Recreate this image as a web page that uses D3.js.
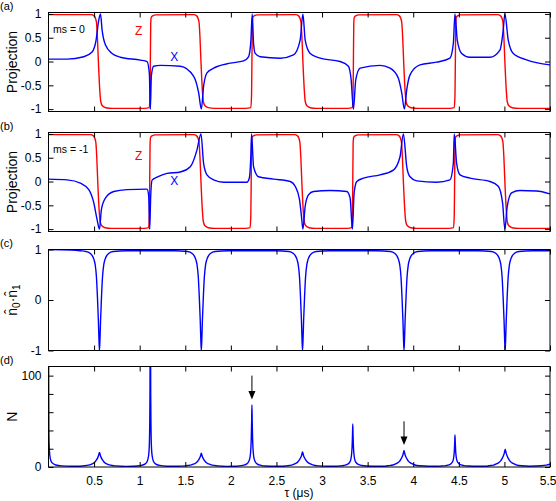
<!DOCTYPE html>
<html><head><meta charset="utf-8">
<script src="https://cdn.jsdelivr.net/npm/d3@7"></script>
<style>
body{margin:0;background:#fff}
svg{display:block}
text{font-family:"Liberation Sans",Arial,Helvetica,sans-serif;fill:#000}
</style>
</head><body>
<svg id="chart" width="556" height="501"></svg>
<script>
// ---------------- DATA ----------------
const xTicks = [0.5,1,1.5,2,2.5,3,3.5,4,4.5,5,5.5];
const xTickLabels = ["0.5","1","1.5","2","2.5","3","3.5","4","4.5","5","5.5"];
const projTicks = [-1,-0.5,0,0.5,1];
const projTickLabels = ["-1","-0.5","0","0.5","1"];
const dotTicks = [-1,0,1];
const dotTickLabels = ["-1","0","1"];
const nTicks = [0,20,40,60,80,100];
const nTickLabels = ["0","","","","","100"];
const panelLetters = ["(a)","(b)","(c)","(d)"];
const msLabels = ["ms = 0","ms = -1"];

// panel (a): ms = 0, Z projection (red)
const zA = [[0,0.985],[0.467,0.985],[0.50,0.96],[0.525,0.84],[0.536,0.52],[0.547,0],[0.562,-0.59],[0.573,-0.84],[0.591,-0.93],[0.627,-0.97],[0.70,-0.985],
[1.05,-0.985],[1.105,-0.97],[1.113,-0.7],[1.117,0],[1.121,0.8],[1.127,0.93],[1.142,0.96],[1.177,0.98],
[1.592,0.985],[1.625,0.96],[1.650,0.84],[1.661,0.52],[1.672,0],[1.687,-0.59],[1.698,-0.84],[1.716,-0.93],[1.752,-0.97],[1.82,-0.985],
[2.16,-0.985],[2.219,-0.97],[2.227,-0.7],[2.231,0],[2.235,0.8],[2.241,0.93],[2.256,0.96],[2.291,0.98],
[2.71,0.985],[2.743,0.96],[2.768,0.84],[2.779,0.52],[2.790,0],[2.805,-0.59],[2.816,-0.84],[2.834,-0.93],[2.87,-0.97],[2.94,-0.985],
[3.28,-0.985],[3.332,-0.97],[3.340,-0.7],[3.344,0],[3.348,0.8],[3.354,0.93],[3.369,0.96],[3.404,0.98],
[3.815,0.985],[3.848,0.96],[3.873,0.84],[3.884,0.52],[3.895,0],[3.910,-0.59],[3.921,-0.84],[3.939,-0.93],[3.975,-0.97],[4.05,-0.985],
[4.40,-0.985],[4.450,-0.97],[4.458,-0.7],[4.462,0],[4.466,0.8],[4.472,0.93],[4.487,0.96],[4.522,0.98],
[4.925,0.985],[4.958,0.96],[4.983,0.84],[4.994,0.52],[5.005,0],[5.020,-0.59],[5.031,-0.84],[5.049,-0.93],[5.085,-0.97],[5.16,-0.985],[5.5,-0.985]];

// panel (a): ms = 0, X projection (blue)
const xA = [[0,0.05],[0.204,0.05],[0.387,0.10],[0.478,0.2],[0.522,0.45],[0.551,0.87],[0.570,1.0],[0.588,0.66],[0.624,0.35],[0.697,0.17],[0.789,0.09],[1.008,0.03],[1.081,0.0],[1.106,-0.25],[1.117,-1],[1.128,-0.3],[1.153,-0.1],[1.227,-0.08],[1.446,-0.1],[1.592,-0.31],[1.647,-0.66],[1.676,-1],[1.701,-0.52],[1.738,-0.24],[1.811,-0.14],[1.993,-0.035],[2.139,0.014],[2.194,0.1],[2.220,0.45],[2.234,1.0],[2.249,0.38],[2.267,0.17],[2.322,0.1],[2.541,0.07],[2.687,0.14],[2.760,0.45],[2.790,1.0],[2.815,0.45],[2.870,0.17],[2.979,0.07],[3.198,0],[3.289,-0.1],[3.319,-0.38],[3.344,-1],[3.370,-0.38],[3.418,-0.14],[3.636,-0.08],[3.746,-0.14],[3.837,-0.35],[3.874,-0.66],[3.903,-1],[3.929,-0.59],[3.965,-0.28],[4.074,-0.07],[4.257,-0.014],[4.403,0.07],[4.440,0.38],[4.458,1.0],[4.483,0.45],[4.531,0.17],[4.622,0.09],[4.841,0.09],[4.951,0.24],[4.987,0.66],[5.005,1.0],[5.042,0.45],[5.097,0.17],[5.243,0.035],[5.5,-0.07]];

// panel (b): ms = -1, Z projection (red)
const zB = [[0,0.985],[0.46,0.985],[0.493,0.96],[0.518,0.84],[0.529,0.52],[0.540,0],[0.555,-0.59],[0.566,-0.84],[0.584,-0.93],[0.62,-0.97],[0.69,-0.985],
[1.05,-0.985],[1.098,-0.97],[1.106,-0.7],[1.110,0],[1.114,0.8],[1.120,0.93],[1.135,0.96],[1.17,0.98],
[1.592,0.985],[1.625,0.96],[1.650,0.84],[1.661,0.52],[1.672,0],[1.687,-0.59],[1.698,-0.84],[1.716,-0.93],[1.752,-0.97],[1.822,-0.985],
[2.163,-0.985],[2.211,-0.97],[2.219,-0.7],[2.223,0],[2.227,0.8],[2.233,0.93],[2.248,0.96],[2.283,0.98],
[2.698,0.985],[2.731,0.96],[2.756,0.84],[2.767,0.52],[2.778,0],[2.793,-0.59],[2.804,-0.84],[2.822,-0.93],[2.858,-0.97],[2.928,-0.985],
[3.277,-0.985],[3.325,-0.97],[3.333,-0.7],[3.337,0],[3.341,0.8],[3.347,0.93],[3.362,0.96],[3.397,0.98],
[3.812,0.985],[3.845,0.96],[3.870,0.84],[3.881,0.52],[3.892,0],[3.907,-0.59],[3.918,-0.84],[3.936,-0.93],[3.972,-0.97],[4.042,-0.985],
[4.394,-0.985],[4.442,-0.97],[4.450,-0.7],[4.454,0],[4.458,0.8],[4.464,0.93],[4.479,0.96],[4.514,0.98],
[4.925,0.985],[4.958,0.96],[4.983,0.84],[4.994,0.52],[5.005,0],[5.020,-0.59],[5.031,-0.84],[5.049,-0.93],[5.085,-0.97],[5.155,-0.985],[5.5,-0.985]];

// panel (b): ms = -1, X projection (blue)
const xB = [[0,0.05],[0.204,0.035],[0.350,-0.035],[0.442,-0.17],[0.497,-0.45],[0.533,-0.8],[0.559,-1],[0.580,-0.59],[0.624,-0.35],[0.716,-0.21],[0.862,-0.17],[1.081,-0.16],[1.099,-0.3],[1.110,-1],[1.121,-0.3],[1.136,0.03],[1.190,0.09],[1.300,0.17],[1.446,0.2],[1.555,0.31],[1.628,0.66],[1.672,1.0],[1.701,0.38],[1.738,0.14],[1.811,0.035],[1.920,-0.014],[2.176,-0.014],[2.202,0.07],[2.220,0.59],[2.227,1.0],[2.249,0.31],[2.303,0.1],[2.468,0.05],[2.651,0],[2.705,-0.1],[2.753,-0.38],[2.778,-0.8],[2.790,-1],[2.815,-0.52],[2.851,-0.28],[2.906,-0.21],[3.089,-0.19],[3.272,-0.21],[3.308,-0.35],[3.333,-1],[3.352,-0.24],[3.381,0],[3.454,0.07],[3.636,0.14],[3.782,0.24],[3.855,0.52],[3.892,1.0],[3.929,0.31],[3.965,0.1],[4.038,0.014],[4.257,-0.014],[4.403,0.035],[4.440,0.38],[4.450,1.0],[4.476,0.38],[4.513,0.14],[4.622,0.07],[4.841,0],[4.932,-0.1],[4.980,-0.45],[5.005,-1],[5.031,-0.52],[5.079,-0.24],[5.170,-0.19],[5.353,-0.2],[5.5,-0.26]];

// panel (c): n0 . n1
const dotC = [[0,1.0],[0.25,0.99],[0.35,0.975],[0.409,0.96],[0.459,0.92],[0.479,0.88],[0.497,0.81],[0.512,0.70],[0.526,0.45],[0.537,0.05],[0.547,-0.4],[0.553,-0.75],[0.559,-1],[0.565,-0.75],[0.571,-0.4],[0.581,0.05],[0.592,0.45],[0.606,0.70],[0.621,0.81],[0.639,0.88],[0.659,0.92],[0.709,0.96],[0.85,0.975],[1.38,0.975],
[1.526,0.96],[1.576,0.92],[1.596,0.88],[1.614,0.81],[1.629,0.70],[1.643,0.45],[1.654,0.05],[1.664,-0.4],[1.670,-0.75],[1.676,-1],[1.682,-0.75],[1.688,-0.4],[1.698,0.05],[1.709,0.45],[1.723,0.70],[1.738,0.81],[1.756,0.88],[1.776,0.92],[1.826,0.96],[1.97,0.975],[2.49,0.975],
[2.636,0.96],[2.686,0.92],[2.706,0.88],[2.724,0.81],[2.739,0.70],[2.753,0.45],[2.764,0.05],[2.774,-0.4],[2.780,-0.75],[2.786,-1],[2.792,-0.75],[2.798,-0.4],[2.808,0.05],[2.819,0.45],[2.833,0.70],[2.848,0.81],[2.866,0.88],[2.886,0.92],[2.936,0.96],[3.08,0.975],[3.60,0.975],
[3.749,0.96],[3.799,0.92],[3.819,0.88],[3.837,0.81],[3.852,0.70],[3.866,0.45],[3.877,0.05],[3.887,-0.4],[3.893,-0.75],[3.899,-1],[3.905,-0.75],[3.911,-0.4],[3.921,0.05],[3.932,0.45],[3.946,0.70],[3.961,0.81],[3.979,0.88],[3.999,0.92],[4.049,0.96],[4.19,0.975],[4.71,0.975],
[4.858,0.96],[4.908,0.92],[4.928,0.88],[4.946,0.81],[4.961,0.70],[4.975,0.45],[4.986,0.05],[4.996,-0.4],[5.002,-0.75],[5.008,-1],[5.014,-0.75],[5.020,-0.4],[5.030,0.05],[5.041,0.45],[5.055,0.70],[5.070,0.81],[5.088,0.88],[5.108,0.92],[5.158,0.96],[5.30,0.975],[5.5,0.975]];

// panel (d): N
const nD = [[0,150],[0.004,40],[0.01,18],[0.02,9],[0.04,4.5],[0.08,2.2],[0.15,1.2],[0.25,0.8],[0.33,0.8],
[0.379,1.2],[0.439,2],[0.479,3.5],[0.509,5.5],[0.524,7.5],[0.539,10],[0.549,12.5],[0.559,16],[0.569,12.5],[0.579,10],[0.594,7.5],[0.609,5.5],[0.639,3.5],[0.679,2],[0.739,1.2],
[0.85,0.7],[0.93,0.8],
[1.017,1.8],[1.057,3.2],[1.082,6],[1.097,12],[1.105,22],[1.110,45],[1.113,80],[1.115,150],[1.117,260],[1.119,150],[1.121,80],[1.124,45],[1.129,22],[1.137,12],[1.152,6],[1.177,3.2],[1.217,1.8],
[1.3,0.9],[1.42,0.8],
[1.496,1.2],[1.556,2],[1.596,3.3],[1.626,5.2],[1.641,7],[1.656,9.4],[1.666,11.7],[1.676,15],[1.686,11.7],[1.696,9.4],[1.711,7],[1.726,5.2],[1.756,3.3],[1.796,2],[1.856,1.2],
[1.95,0.7],[2.05,0.8],
[2.081,1.1],[2.131,1.8],[2.171,3.2],[2.196,6],[2.211,11],[2.219,20],[2.224,32],[2.228,50],[2.231,68],[2.234,50],[2.238,32],[2.243,20],[2.251,11],[2.266,6],[2.291,3.2],[2.331,1.8],[2.381,1.1],
[2.48,0.8],[2.56,0.8],
[2.606,1.2],[2.666,2],[2.706,3.6],[2.736,5.7],[2.751,7.7],[2.766,10.3],[2.776,12.9],[2.786,16.5],[2.796,12.9],[2.806,10.3],[2.821,7.7],[2.836,5.7],[2.866,3.6],[2.906,2],[2.966,1.2],
[3.06,0.8],[3.15,0.8],
[3.187,1.1],[3.237,1.6],[3.277,2.8],[3.302,5],[3.317,9],[3.325,15],[3.330,23],[3.334,35],[3.337,47],[3.340,35],[3.344,23],[3.349,15],[3.357,9],[3.372,5],[3.397,2.8],[3.437,1.6],[3.487,1.1],
[3.6,0.8],[3.68,0.8],
[3.719,1.3],[3.779,2.2],[3.819,3.9],[3.849,6.2],[3.864,8.4],[3.879,11.2],[3.889,14],[3.899,18],[3.909,14],[3.919,11.2],[3.934,8.4],[3.949,6.2],[3.979,3.9],[4.019,2.2],[4.079,1.3],
[4.17,0.8],[4.26,0.8],
[4.308,1.1],[4.358,1.5],[4.398,2.5],[4.423,4.5],[4.438,7.5],[4.446,12],[4.451,18],[4.455,27],[4.458,35],[4.461,27],[4.465,18],[4.470,12],[4.478,7.5],[4.493,4.5],[4.518,2.5],[4.558,1.5],[4.608,1.1],
[4.72,0.8],[4.8,0.8],
[4.829,1.3],[4.889,2.4],[4.929,4.2],[4.959,6.7],[4.974,9.1],[4.989,12.2],[4.999,15.2],[5.009,19.5],[5.019,15.2],[5.029,12.2],[5.044,9.1],[5.059,6.7],[5.089,4.2],[5.129,2.4],[5.189,1.3],
[5.28,0.9],[5.4,1.4],[5.46,2.1],[5.5,3]];

// arrows in panel (d): [tau, N at tail, N at tip]
const arrows = [[2.231,100,74],[3.899,50,24]];

// ---------------- DRAW ----------------
const svg = d3.select("#chart");
const X0 = 48.5, X1 = 550;
const x = d3.scaleLinear().domain([0,5.5]).range([X0,X1]);

const panels = [
  {top:12.5, bottom:111.5, domain:[-1.05,1.03], ticks:projTicks, labels:projTickLabels, series:[{d:zA,c:"#ff0000"},{d:xA,c:"#0000ff"}]},
  {top:132.5, bottom:231.5, domain:[-1.05,1.03], ticks:projTicks, labels:projTickLabels, series:[{d:zB,c:"#ff0000"},{d:xB,c:"#0000ff"}]},
  {top:249.5, bottom:350.5, domain:[-1,1], ticks:dotTicks, labels:dotTickLabels, series:[{d:dotC,c:"#0000ff"}]},
  {top:366.5, bottom:467, domain:[0,110], ticks:nTicks, labels:nTickLabels, series:[{d:nD,c:"#0000ff"}]}
];

const TS = 5;
panels.forEach((p,i) => {
  const y = d3.scaleLinear().domain(p.domain).range([p.bottom,p.top]);
  p.y = y;
  const g = svg.append("g");
  const cid = "clip"+i;
  svg.append("clipPath").attr("id",cid).append("rect")
    .attr("x",X0).attr("y",p.top).attr("width",X1-X0).attr("height",p.bottom-p.top);

  const line = d3.line().x(d=>x(d[0])).y(d=>y(d[1])).curve(d3.curveMonotoneX);
  const dg = g.append("g").attr("clip-path",`url(#${cid})`);
  p.series.forEach(s => {
    dg.append("path").attr("d",line(s.d)).attr("fill","none")
      .attr("stroke",s.c).attr("stroke-width",1.4).attr("stroke-linejoin","round");
  });

  // axes (inward ticks)
  const left = d3.axisLeft(y).tickValues(p.ticks).tickSize(-TS).tickSizeOuter(0).tickPadding(7)
    .tickFormat((d,k)=>p.labels[k]);
  const right = d3.axisRight(y).tickValues(p.ticks).tickSize(-TS).tickSizeOuter(0).tickFormat("");
  const topA = d3.axisTop(x).tickValues(xTicks).tickSize(-TS).tickSizeOuter(0).tickFormat("");
  const bot = d3.axisBottom(x).tickValues(xTicks).tickSize(-TS).tickSizeOuter(0).tickPadding(9)
    .tickFormat((d,k)=> i===3 ? xTickLabels[k] : "");
  const ax = [
    g.append("g").attr("transform",`translate(${X0},0)`).call(left),
    g.append("g").attr("transform",`translate(${X1},0)`).call(right),
    g.append("g").attr("transform",`translate(0,${p.top})`).call(topA),
    g.append("g").attr("transform",`translate(0,${p.bottom})`).call(bot)
  ];
  ax.forEach(a => {
    a.select(".domain").remove();
    a.selectAll(".tick line").attr("stroke","#000").attr("stroke-width",1);
    a.selectAll(".tick text").attr("font-size",12).attr("fill","#000")
      .attr("font-family",'"Liberation Sans",Arial,sans-serif');
  });
  if (i===3) {
    // keep the last label inside the window
    ax[3].selectAll(".tick text").filter((d,k)=>k===xTicks.length-1).attr("text-anchor","end").attr("dx",6);
  }

  // frame
  g.append("rect").attr("x",X0).attr("y",p.top).attr("width",X1-X0).attr("height",p.bottom-p.top)
    .attr("fill","none").attr("stroke","#000").attr("stroke-width",1);

  // panel letter
  svg.append("text").attr("x",0).attr("y",p.top-3).attr("font-size",11).text(panelLetters[i]);
});

// y labels
function ylab(cy, txt){
  return svg.append("text").attr("transform",`translate(17,${cy}) rotate(-90)`)
    .attr("text-anchor","middle").attr("font-size",14).text(txt);
}
ylab((panels[0].top+panels[0].bottom)/2,"Projection");
ylab((panels[1].top+panels[1].bottom)/2,"Projection");
const lc = svg.append("text").attr("transform",`translate(17,${(panels[2].top+panels[2].bottom)/2}) rotate(-90)`)
  .attr("text-anchor","middle").attr("font-size",14);
lc.append("tspan").text("n\u0302");
lc.append("tspan").attr("dy",3).attr("font-size",10).text("0");
lc.append("tspan").attr("dy",-3).text("\u00b7n\u0302");
lc.append("tspan").attr("dy",3).attr("font-size",10).text("1");
ylab((panels[3].top+panels[3].bottom)/2,"N");

// x label
svg.append("text").attr("x",299).attr("y",497).attr("text-anchor","middle").attr("font-size",12).text("τ (μs)");

// in-panel annotations
const pa = panels[0], pb = panels[1];
svg.append("text").attr("x",53).attr("y",pa.y(0.6)).attr("font-size",10.5).text(msLabels[0]);
svg.append("text").attr("x",53).attr("y",pb.y(0.6)).attr("font-size",10.5).text(msLabels[1]);
svg.append("text").attr("x",x(0.99)).attr("y",pa.y(0.55)).attr("text-anchor","middle").attr("font-size",12).style("fill","#ff0000").text("Z");
svg.append("text").attr("x",x(1.38)).attr("y",pa.y(0.02)).attr("text-anchor","middle").attr("font-size",12).style("fill","#0000ff").text("X");
svg.append("text").attr("x",x(0.99)).attr("y",pb.y(0.45)).attr("text-anchor","middle").attr("font-size",12).style("fill","#ff0000").text("Z");
svg.append("text").attr("x",x(1.38)).attr("y",pb.y(-0.08)).attr("text-anchor","middle").attr("font-size",12).style("fill","#0000ff").text("X");

// arrows
const yd = panels[3].y;
arrows.forEach(a => {
  const ax = x(a[0]), y0 = yd(a[1]), y1 = yd(a[2]);
  svg.append("line").attr("x1",ax).attr("x2",ax).attr("y1",y0).attr("y2",y1-7)
    .attr("stroke","#000").attr("stroke-width",1);
  svg.append("path").attr("d",`M${ax-3.5},${y1-8.5}L${ax+3.5},${y1-8.5}L${ax},${y1}Z`).attr("fill","#000");
});
</script>
</body></html>
